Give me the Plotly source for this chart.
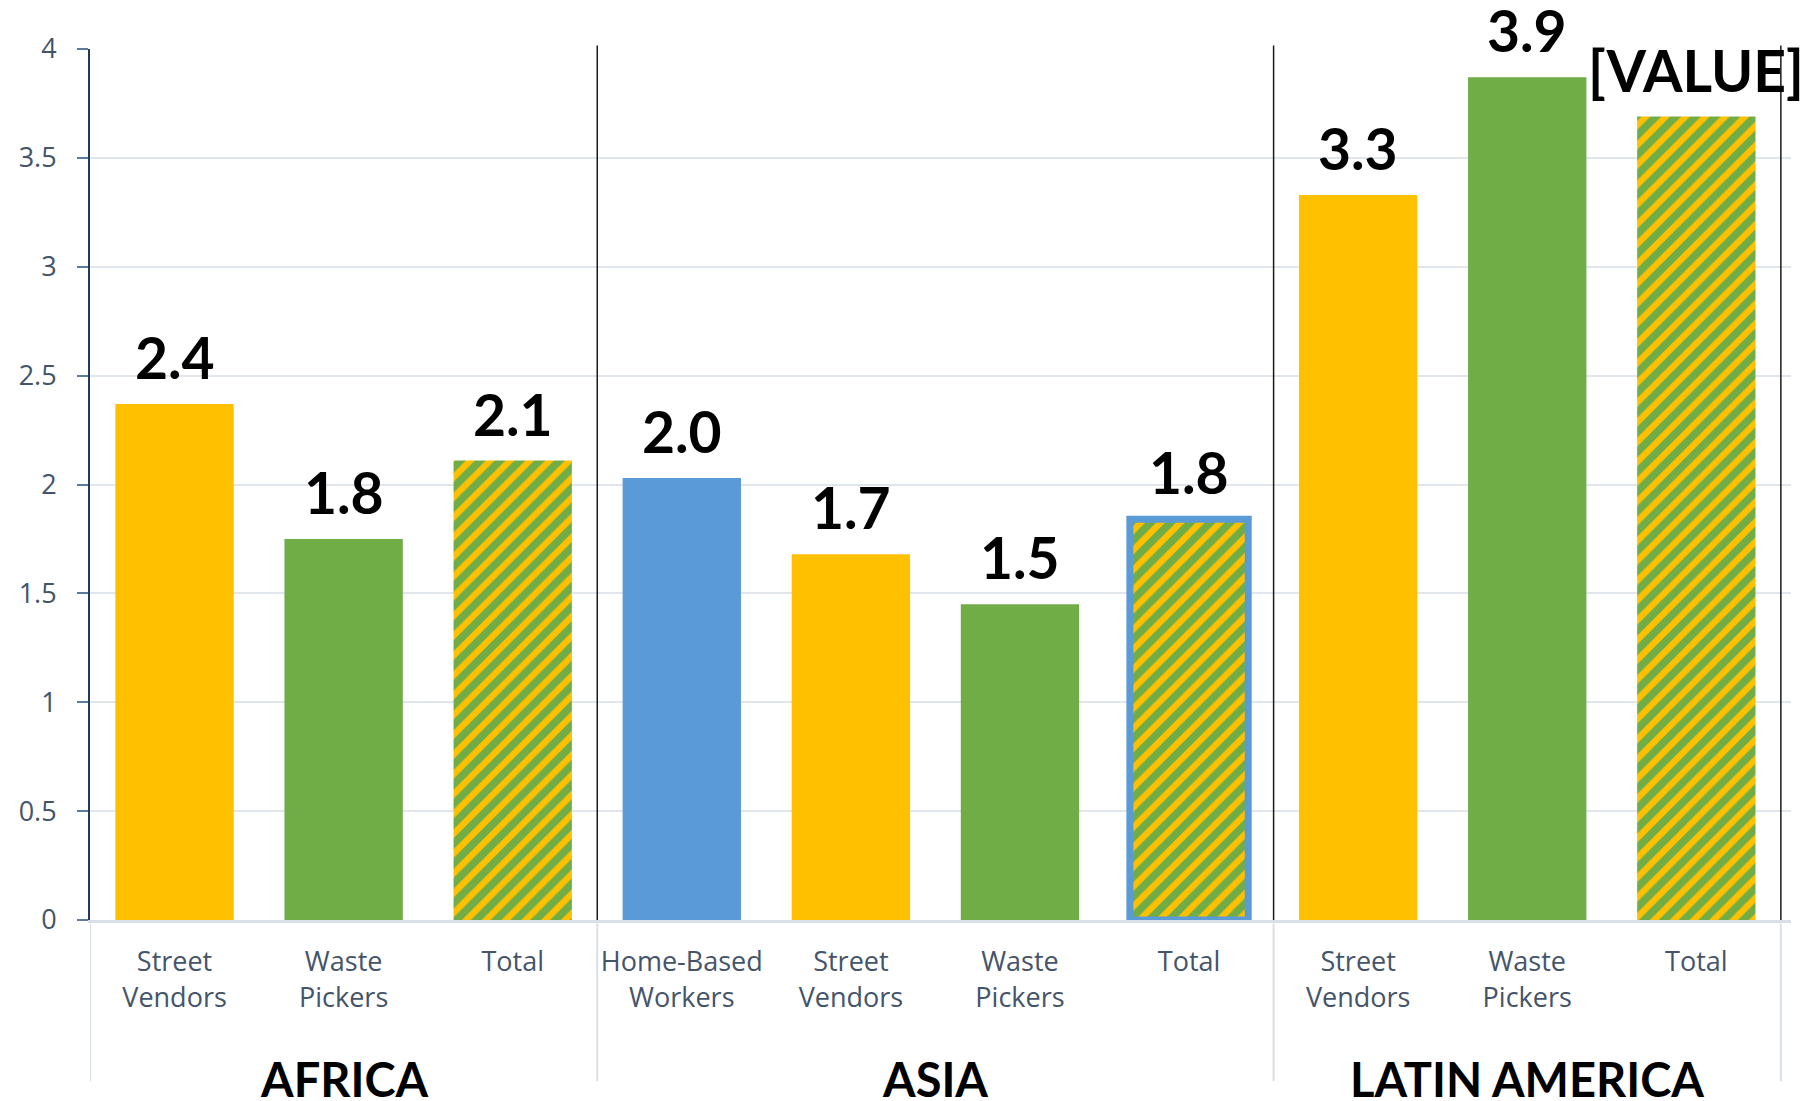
import plotly.graph_objects as go

# ---- data ----
groups = ["AFRICA", "ASIA", "LATIN AMERICA"]
group_categories = [
    ["Street Vendors", "Waste Pickers", "Total"],
    ["Home-Based Workers", "Street Vendors", "Waste Pickers", "Total"],
    ["Street Vendors", "Waste Pickers", "Total"],
]
group_values = [
    [2.37, 1.75, 2.11],
    [2.03, 1.68, 1.45, 1.84],
    [3.33, 3.87, 3.69],
]
group_labels = [
    ["2.4", "1.8", "2.1"],
    ["2.0", "1.7", "1.5", "1.8"],
    ["3.3", "3.9", "[VALUE]"],
]
tick_labels = {
    "Street Vendors": "Street<br>Vendors",
    "Waste Pickers": "Waste<br>Pickers",
    "Home-Based Workers": "Home-Based<br>Workers",
    "Total": "Total",
}
highlighted = ("ASIA", "Total")

# ---- styles ----
YELLOW = "#FFC000"
GREEN = "#70AD47"
BLUE = "#5A9AD8"
BORDER_BLUE = "#5B9BD5"
TICK_COLOR = "#44546A"
GRID = "#E1E6EC"
DIVIDER = "#D9DFE7"
BAR_WIDTH = 0.70

fill_for = {"Street Vendors": YELLOW, "Waste Pickers": GREEN,
            "Home-Based Workers": BLUE}

xs, ys, texts, cats, grp_of = [], [], [], [], []
idx = 0
group_bounds = []
for g, cl, vl, tl in zip(groups, group_categories, group_values, group_labels):
    start = idx
    for c, v, t in zip(cl, vl, tl):
        xs.append(idx); ys.append(v); texts.append(t); cats.append(c); grp_of.append(g)
        idx += 1
    group_bounds.append((start - 0.5, idx - 0.5))

solid = [i for i, c in enumerate(cats) if c != "Total"]
total = [i for i, c in enumerate(cats) if c == "Total"]

fig = go.Figure()
fig.add_trace(go.Bar(
    x=[xs[i] for i in solid], y=[ys[i] for i in solid], width=BAR_WIDTH,
    marker=dict(color=[fill_for[cats[i]] for i in solid], line=dict(width=0)),
    hoverinfo="skip", showlegend=False,
))
fig.add_trace(go.Bar(
    x=[xs[i] for i in total], y=[ys[i] for i in total], width=BAR_WIDTH,
    marker=dict(
        color=GREEN,
        line=dict(color=BORDER_BLUE,
                  width=[7 if (grp_of[i], cats[i]) == highlighted else 0 for i in total]),
        pattern=dict(shape="/", fgcolor=YELLOW, bgcolor=GREEN, fgopacity=1,
                     size=14, solidity=0.45, fillmode="overlay"),
    ),
    hoverinfo="skip", showlegend=False,
))

annotations = []
for x, y, t in zip(xs, ys, texts):
    annotations.append(dict(
        x=x, y=y, xref="x", yref="y", text=t, showarrow=False,
        yanchor="middle", yshift=47,
        font=dict(family="Lato", size=57, color="black", weight="bold"),
    ))
for g, (a, b) in zip(groups, group_bounds):
    annotations.append(dict(
        x=(a + b) / 2, y=-0.148, xref="x", yref="paper", text=g,
        showarrow=False, yanchor="top",
        font=dict(family="Lato", size=47, color="black", weight="bold"),
    ))

shapes = []
# dark separators inside the plot between groups and at the right end
for a, b in group_bounds:
    shapes.append(dict(type="line", xref="x", yref="paper", x0=b, x1=b,
                       y0=0, y1=1.004, line=dict(color="#1a1a1a", width=1.5)))
# light dividers below the axis (category-group dividers)
div_positions = [group_bounds[0][0]] + [b for _, b in group_bounds]
for p in div_positions:
    shapes.append(dict(type="line", xref="x", yref="paper", x0=p, x1=p,
                       y0=-0.004, y1=-0.185, line=dict(color=DIVIDER, width=2),
                       layer="below"))

fig.update_layout(
    width=1806, height=1093,
    margin=dict(l=82, r=23, t=41, b=181),
    paper_bgcolor="white", plot_bgcolor="white",
    barmode="overlay",
    shapes=shapes,
    annotations=annotations,
    font=dict(family="Open Sans", color=TICK_COLOR),
)
fig.update_xaxes(
    range=[-0.5, len(xs) - 0.44],
    tickvals=xs, ticktext=[tick_labels[c] for c in cats],
    tickfont=dict(family="Open Sans", size=27, color=TICK_COLOR),
    ticks="", showgrid=False, zeroline=False,
    showline=True, linecolor=DIVIDER, linewidth=3,
    ticklabelstandoff=16,
)
fig.update_yaxes(
    range=[0, 4], dtick=0.5,
    tickfont=dict(family="Open Sans", size=27, color=TICK_COLOR),
    showgrid=True, gridcolor=GRID, gridwidth=2,
    zeroline=False,
    showline=True, linecolor="#1F3A5C", linewidth=2,
    ticks="outside", ticklen=11, tickwidth=2, tickcolor="#5B7BA0",
    ticklabelstandoff=15,
)

fig.write_html("out.html")
